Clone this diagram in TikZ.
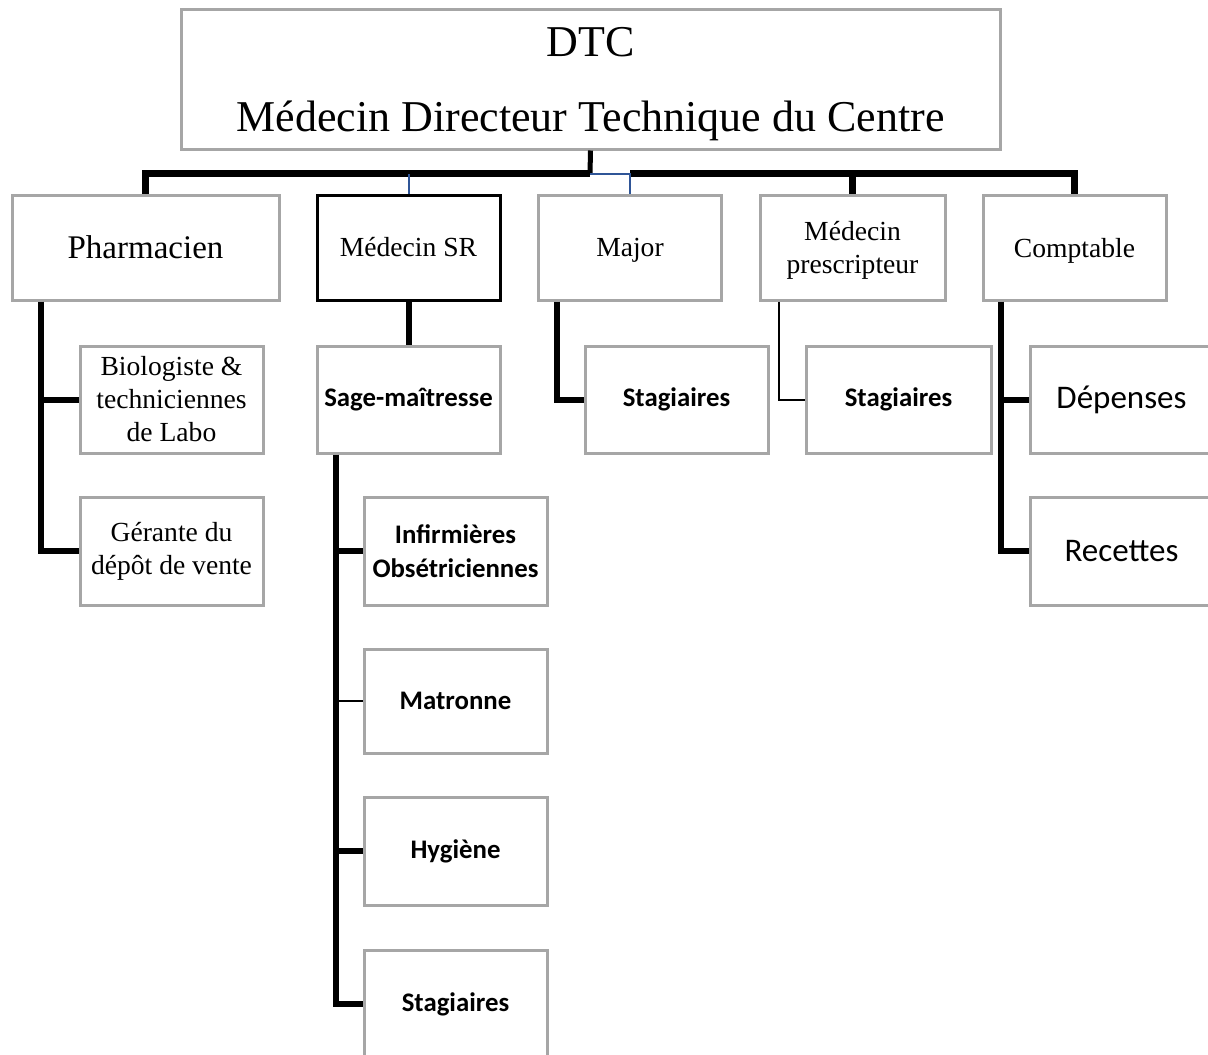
\documentclass[tikz,border=0pt]{standalone}
\usepackage{fontspec}
\setmainfont{Liberation Serif}
\newfontfamily\calibri{Carlito}
\usepackage{tikz}
\definecolor{boxgray}{RGB}{166,166,166}
\definecolor{linkblue}{RGB}{47,85,151}

\begin{document}
\begin{tikzpicture}[x=0.5pt,y=-0.5pt,
  box/.style={draw=boxgray,line width=1.5pt,align=center,inner sep=0pt,minimum width=91.5pt,minimum height=53.5pt},
  serif/.style={font=\fontsize{13.8}{16.5}\selectfont},
  sans/.style={font=\calibri\bfseries\fontsize{13.4}{17}\selectfont},
  bigsans/.style={font=\calibri\fontsize{16.5}{20}\selectfont},
  thickline/.style={line width=3pt},
  thinline/.style={line width=1pt},
  blueline/.style={draw=linkblue,line width=1pt}]

\useasboundingbox (0,0) rectangle (1208,1054);
\clip (0,0) rectangle (1208,1054);

\node[box,minimum width=409.5pt,minimum height=69.5pt,text depth=0pt,font=\fontsize{22}{37.5}\selectfont] (dtc) at (590.5,79.5) {DTC\\Médecin Directeur Technique du Centre};

\node[box,minimum width=133.5pt,minimum height=52.5pt,font=\fontsize{16.5}{20}\selectfont] (pharm) at (145.5,247.5) {Pharmacien};
\node[box,serif,draw=black,minimum height=52.5pt] (sr) at (408.5,247.5) {Médecin SR};
\node[box,serif,minimum height=52.5pt,text depth=0pt] (major) at (630,247.5) {Major};
\node[box,serif,minimum width=92.5pt,minimum height=52.5pt,text depth=0pt] (presc) at (852.5,247.5) {Médecin\\prescripteur};
\node[box,serif,minimum height=52.5pt,text depth=0pt] (compt) at (1074.5,247.5) {Comptable};

\node[box,serif] (bio) at (171.5,399.5) {Biologiste \&\\techniciennes\\de Labo};
\node[box,sans] (sage) at (408.5,399.5) {Sage-maîtresse};
\node[box,sans] (stagmaj) at (676.5,399.5) {Stagiaires};
\node[box,sans,minimum width=92.5pt] (stagpre) at (898.5,399.5) {Stagiaires};
\node[box,bigsans] (dep) at (1121.5,399.5) {Dépenses};

\node[box,serif,minimum height=54pt] (gerante) at (171.5,551) {Gérante du\\dépôt de vente};
\node[box,sans,minimum height=54pt] (inf) at (455.5,551) {Infirmières\\Obsétriciennes};
\node[box,bigsans,minimum height=54pt] (rec) at (1121.5,551) {Recettes};

\node[box,sans,minimum height=52pt] (matr) at (455.5,701) {Matronne};
\node[box,sans,minimum height=54pt] (hyg) at (455.5,851) {Hygiène};
\node[box,sans,minimum height=54pt] (stagsage) at (455.5,1004) {Stagiaires};

\coordinate (bus) at (590,173.5);
\draw[line width=2.5pt] (dtc.south) -- (bus);
\draw[line width=3.5pt] (pharm.north) |- (bus);
\draw[line width=3.5pt] (compt.north) |- (major.north |- bus);
\draw[line width=3.5pt] (presc.north) -- (presc.north |- bus);
\draw[blueline] (bus) -| (major.north);
\draw[blueline] (sr.north) -- (sr.north |- bus);

\coordinate (phtap) at (41,0);
\coordinate (sgtap) at (336,0);
\coordinate (mjtap) at (557,0);
\coordinate (prtap) at (779,0);
\coordinate (cotap) at (1001,0);

\draw[thickline] (pharm.south -| phtap) |- (gerante.west);
\draw[thickline] (phtap |- bio.west) -- (bio.west);
\draw[thickline] (sr) -- (sage);
\draw[thickline] (sage.south -| sgtap) |- (stagsage.west);
\draw[thickline] (sgtap |- inf.west) -- (inf.west);
\draw[thinline] (sgtap |- matr.west) -- (matr.west);
\draw[thickline] (sgtap |- hyg.west) -- (hyg.west);
\draw[thickline] (major.south -| mjtap) |- (stagmaj.west);
\draw[thinline] (presc.south -| prtap) |- (stagpre.west);
\draw[thickline] (compt.south -| cotap) |- (rec.west);
\draw[thickline] (cotap |- dep.west) -- (dep.west);

\end{tikzpicture}
\end{document}
